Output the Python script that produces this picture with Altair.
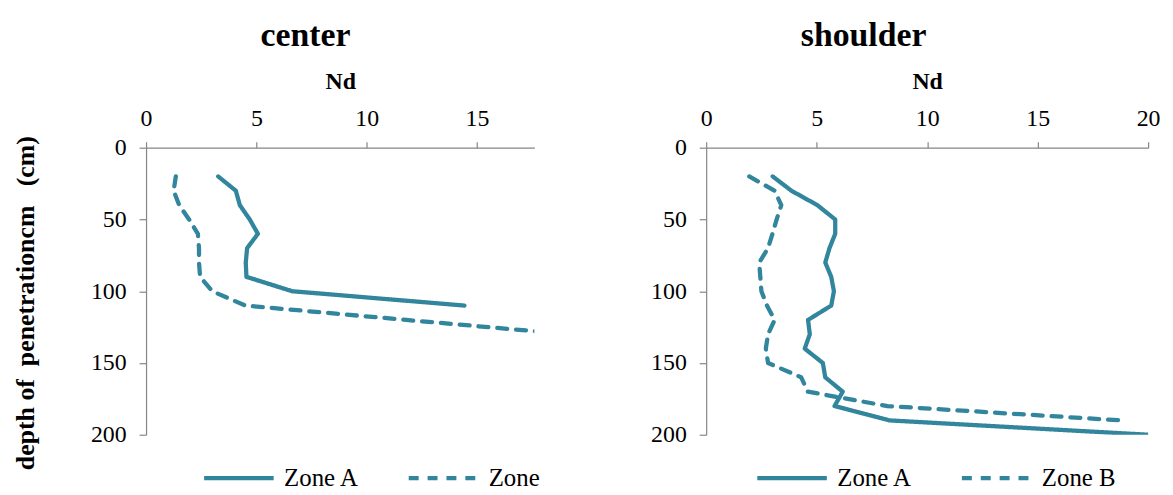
import altair as alt
import pandas as pd

TEAL = "#31859C"
FONT = "Liberation Serif"

# ---- data: center ----
center_a_depth = [20, 30, 40, 50, 60, 70, 80, 90, 100, 110]
center_a_nd = [3.27, 4.07, 4.25, 4.7, 5.07, 4.58, 4.52, 4.55, 6.62, 14.43]
center_b_depth = [20, 30, 40, 50, 60, 70, 80, 90, 100, 110, 120, 130]
center_b_nd = [1.35, 1.25, 1.5, 1.95, 2.35, 2.4, 2.4, 2.45, 3.0, 4.5, 11.8, 19.2]
center_names = ["Zone A", "Zone"]

# ---- data: shoulder ----
shoulder_a_depth = [20, 30, 40, 50, 60, 70, 80, 90, 100, 110, 120, 130, 140, 150, 160, 170, 180, 190, 200]
shoulder_a_nd = [3.01, 3.86, 5.03, 5.84, 5.84, 5.58, 5.39, 5.66, 5.78, 5.66, 4.61, 4.69, 4.46, 5.28, 5.39, 6.18, 5.81, 8.28, 20.0]
shoulder_b_depth = [20, 30, 40, 50, 60, 70, 80, 90, 100, 110, 120, 130, 140, 150, 160, 170, 180, 190]
shoulder_b_nd = [1.95, 3.1, 3.4, 3.19, 3.0, 2.8, 2.4, 2.45, 2.5, 2.75, 3.1, 2.8, 2.7, 2.8, 4.3, 4.6, 8.2, 18.76]
shoulder_names = ["Zone A", "Zone B"]

x_ticks_center = [0, 5, 10, 15]
x_ticks_shoulder = [0, 5, 10, 15, 20]
y_ticks = [0, 50, 100, 150, 200]

Y_TITLE = "depth of\u00a0\u00a0penetrationcm\u00a0\u00a0\u00a0(cm)"


def frame(names, a_depth, a_nd, b_depth, b_nd):
    rows = [{"zone": names[0], "depth": d, "nd": v} for d, v in zip(a_depth, a_nd)]
    rows += [{"zone": names[1], "depth": d, "nd": v} for d, v in zip(b_depth, b_nd)]
    return pd.DataFrame(rows)


def panel(df, names, title, title_dx, xmax, xticks, ytitle, width, legend_x):
    yaxis_kw = dict(values=y_ticks, tickSize=7, labelPadding=13)
    if ytitle:
        yaxis_kw.update(title=ytitle, titleFontSize=26, titleFont=FONT, titleFontWeight="bold",
                        titleColor="black", titlePadding=52, titleY=156)
    else:
        yaxis_kw.update(title=None)
    return alt.Chart(df).mark_line(
        strokeWidth=4.3, color=TEAL, clip=True, strokeCap="round", strokeJoin="round"
    ).encode(
        x=alt.X("nd:Q", scale=alt.Scale(domain=[0, xmax], nice=False, zero=True),
                axis=alt.Axis(orient="top", values=xticks, title="Nd", tickSize=6, labelPadding=11,
                              titleFontSize=24, titleFont=FONT, titleFontWeight="bold",
                              titleColor="black", titlePadding=14, labelFlush=False)),
        y=alt.Y("depth:Q", scale=alt.Scale(domain=[0, 200], reverse=True, nice=False),
                axis=alt.Axis(**yaxis_kw)),
        strokeDash=alt.StrokeDash(
            "zone:N",
            scale=alt.Scale(domain=names, range=[[1, 0], [10, 9]]),
            legend=alt.Legend(title=None, orient="none", direction="horizontal",
                              legendX=legend_x, legendY=295, symbolType="stroke",
                              symbolSize=4900, symbolStrokeWidth=4.3, symbolStrokeColor=TEAL,
                              labelFont=FONT, labelFontSize=25, labelColor="black",
                              labelOffset=8, columnPadding=40, labelLimit=0)),
        order=alt.Order("depth:Q"),
    ).properties(
        width=width, height=289,
        title=alt.TitleParams(title, font=FONT, fontSize=34, fontWeight="bold", color="black",
                              dx=title_dx, offset=16),
    )


left = panel(frame(center_names, center_a_depth, center_a_nd, center_b_depth, center_b_nd),
             center_names, "center", -35, 17.6, x_ticks_center, Y_TITLE, 391, 56)
right = panel(frame(shoulder_names, shoulder_a_depth, shoulder_a_nd, shoulder_b_depth, shoulder_b_nd),
              shoulder_names, "shoulder", -64, 20, x_ticks_shoulder, None, 445, 49)

chart = alt.hconcat(left, right, spacing=111).resolve_scale(
    x="independent", strokeDash="independent"
).resolve_legend(strokeDash="independent").properties(
    padding={"left": 5, "top": 10, "right": 5, "bottom": 0}
).configure_view(stroke=None).configure_axis(
    grid=False, domainColor="#868686", tickColor="#868686", domainWidth=1.2, tickWidth=1.2,
    labelFont=FONT, labelFontSize=24, labelColor="black"
)

chart.save("out.html", embed_options={"renderer": "svg", "actions": False})
